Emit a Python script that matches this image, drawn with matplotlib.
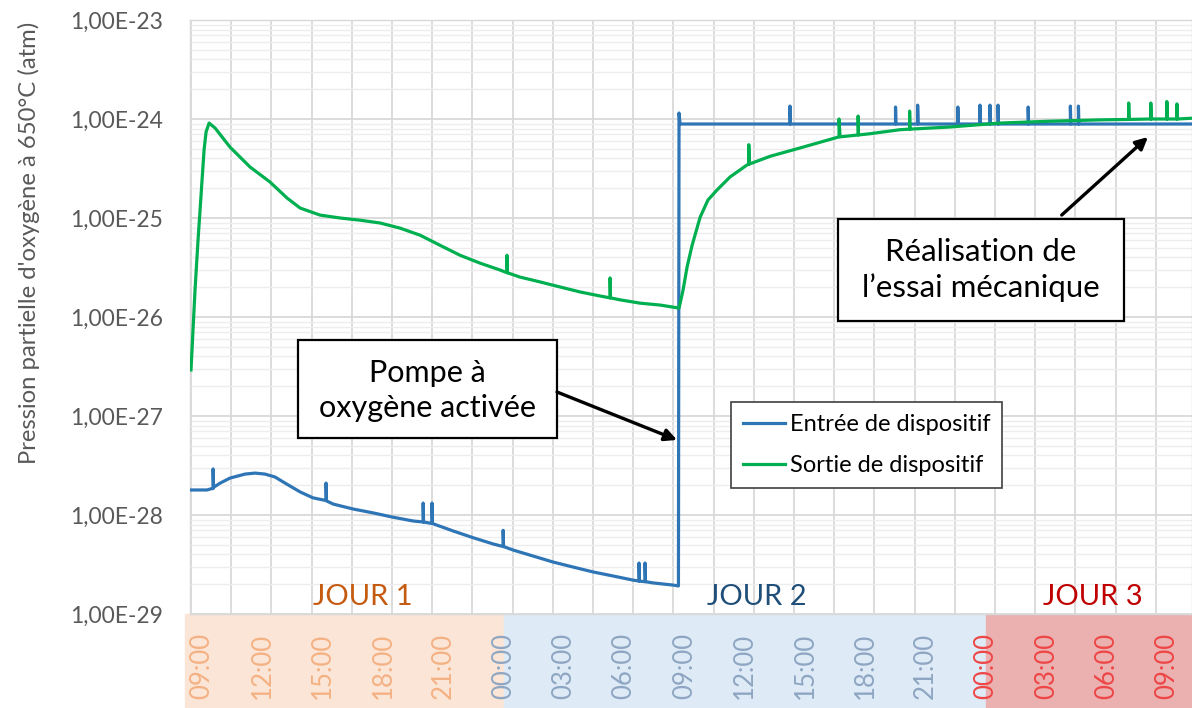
"""
pression partielle d'oxygene mesuree en entree et en sortie du dispositif
"""
import math

import matplotlib
matplotlib.use("Agg")
import matplotlib.pyplot as plt
import matplotlib.ticker as mticker
from matplotlib.patches import Rectangle
from matplotlib.transforms import blended_transform_factory

plt.rcParams["font.family"] = ["Lato", "DejaVu Sans"]

# temps en heures depuis minuit du jour 1, pressions en atm
entree_t = [
    8.45, 9.25, 9.45, 9.55, 9.55, 9.57, 9.90, 10.39, 11.14, 11.64, 12.13, 12.63,
    13.13, 13.88, 14.52, 15.17, 15.17, 15.19, 15.52, 16.51, 17.51, 18.50, 19.50,
    20.0, 20.0, 20.02, 20.44, 20.44, 20.46, 21.49, 22.48, 23.48,
    23.98, 23.98, 24.0, 24.47, 25.47, 26.46, 27.46, 28.45, 29.45, 30.44,
    30.74, 30.74, 30.76, 31.04, 31.04, 31.06, 31.44, 32.43, 32.70,
    32.73, 32.78,
    38.25, 38.25, 38.27, 43.5, 43.5, 43.52, 44.6, 44.6, 44.62,
    46.6, 46.6, 46.62, 47.7, 47.7, 47.72, 48.2, 48.2, 48.22,
    48.6, 48.6, 48.62, 50.1, 50.1, 50.12, 52.2, 52.2, 52.22,
    52.6, 52.6, 52.62, 58.3,
]
entree_p = [
    1.79e-28, 1.79e-28, 1.84e-28, 1.85e-28, 2.92e-28, 1.90e-28, 2.10e-28, 2.36e-28, 2.59e-28, 2.65e-28, 2.59e-28, 2.42e-28,
    2.10e-28, 1.71e-28, 1.49e-28, 1.40e-28, 2.10e-28, 1.39e-28, 1.29e-28, 1.15e-28, 1.05e-28, 9.5e-29, 8.7e-29,
    8.5e-29, 1.32e-28, 8.5e-29, 8.2e-29, 1.32e-28, 8.2e-29, 6.9e-29, 5.9e-29, 5.1e-29,
    4.8e-29, 7.0e-29, 4.8e-29, 4.43e-29, 3.85e-29, 3.35e-29, 2.98e-29, 2.66e-29, 2.42e-29, 2.20e-29,
    2.15e-29, 3.27e-29, 2.15e-29, 2.12e-29, 3.27e-29, 2.12e-29, 2.06e-29, 1.96e-29, 1.92e-29,
    1.15e-24, 8.9e-25,
    8.9e-25, 1.35e-24, 8.9e-25, 8.9e-25, 1.32e-24, 8.9e-25, 8.9e-25, 1.38e-24, 8.9e-25,
    8.9e-25, 1.32e-24, 8.9e-25, 8.9e-25, 1.38e-24, 8.9e-25, 8.9e-25, 1.38e-24, 8.9e-25,
    8.9e-25, 1.38e-24, 8.9e-25, 8.9e-25, 1.32e-24, 8.9e-25, 8.9e-25, 1.35e-24, 8.9e-25,
    8.9e-25, 1.35e-24, 8.9e-25, 8.9e-25,
]

sortie_t = [
    8.45, 8.55, 8.65, 8.80, 8.90, 9.00, 9.10, 9.20, 9.35, 9.65, 10.39, 11.39, 12.38,
    13.23, 13.88, 14.87, 15.87, 16.86, 17.86, 18.85, 19.85, 20.84, 21.84, 22.83, 23.83,
    24.17, 24.17, 24.19, 24.82, 25.82, 26.81, 27.81, 28.80,
    29.30, 29.30, 29.32, 29.80, 30.79, 31.79, 32.73,
    32.93, 33.13, 33.38, 33.78, 34.17, 34.62, 35.27, 36.11, 36.20, 36.20, 36.22,
    37.26, 38.75, 40.69, 40.69, 40.74, 41.64, 41.64, 41.66, 42.23, 43.73,
    44.20, 44.20, 44.22, 46.21, 48.70, 51.19, 53.68,
    55.1, 55.1, 55.12, 56.2, 56.2, 56.22, 57.0, 57.0, 57.02,
    57.5, 57.5, 57.52, 58.3,
]
sortie_p = [
    2.92e-27, 7.4e-27, 1.87e-26, 6.0e-26, 1.2e-25, 2.42e-25, 4.86e-25, 7.4e-25, 9.1e-25, 8.1e-25, 5.2e-25, 3.27e-25, 2.31e-25,
    1.59e-25, 1.26e-25, 1.07e-25, 1.0e-25, 9.5e-26, 8.9e-26, 7.9e-26, 6.7e-26, 5.3e-26, 4.2e-26, 3.5e-26, 2.98e-26,
    2.8e-26, 4.2e-26, 2.8e-26, 2.53e-26, 2.26e-26, 2.01e-26, 1.79e-26, 1.63e-26,
    1.56e-26, 2.48e-26, 1.56e-26, 1.49e-26, 1.38e-26, 1.32e-26, 1.23e-26,
    1.87e-26, 3.2e-26, 5.3e-26, 1.02e-25, 1.52e-25, 1.92e-25, 2.6e-25, 3.43e-25, 3.5e-25, 5.5e-25, 3.5e-25,
    4.2e-25, 5.1e-25, 6.6e-25, 1.0e-24, 6.6e-25, 6.9e-25, 1.07e-24, 6.9e-25, 7.1e-25, 7.8e-25,
    7.9e-25, 1.2e-24, 7.9e-25, 8.3e-25, 9.1e-25, 9.5e-25, 9.8e-25,
    9.9e-25, 1.45e-24, 9.9e-25, 1.0e-24, 1.45e-24, 1.0e-24, 1.0e-24, 1.5e-24, 1.0e-24,
    1.0e-24, 1.42e-24, 1.0e-24, 1.02e-24,
]

heures = [9, 12, 15, 18, 21, 24, 27, 30, 33, 36, 39, 42, 45, 48, 51, 54, 57]
decades = [1e-29, 1e-28, 1e-27, 1e-26, 1e-25, 1e-24, 1e-23]
jours = ["JOUR 1", "JOUR 2", "JOUR 3"]
limites_jours = [24, 48]

couleurs_bandes = ["#FBE5D6", "#DEEBF7", "#EBB0B0"]
couleurs_heures = ["#F4B183", "#8FA6C2", "#EE4646"]
couleurs_jours = ["#C55A11", "#1F4E79", "#C00000"]

fig = plt.figure(figsize=(11.92, 7.08), dpi=100)
ax = fig.add_axes([190 / 1192, 94 / 708, 1002 / 1192, 594 / 708])

ax.set_yscale("log")
ax.set_ylim(decades[0], decades[-1])
xmin, xmax = 8.4, 58.25
ax.set_xlim(xmin, xmax)

ax.plot(entree_t, entree_p, color="#2E75B6", lw=2.3, label="Entrée de dispositif", zorder=3)
ax.plot(sortie_t, sortie_p, color="#00B050", lw=2.3, label="Sortie de dispositif", zorder=3)

# grille
ax.yaxis.set_major_locator(mticker.FixedLocator(decades))
ax.yaxis.set_minor_locator(mticker.FixedLocator(
    [m * d for d in decades[:-1] for m in range(2, 10)]))
ax.yaxis.set_minor_formatter(mticker.NullFormatter())
ax.yaxis.set_major_formatter(
    mticker.FuncFormatter(lambda v, _: "1,00E%03d" % round(math.log10(v))))
ax.grid(which="major", axis="y", color="#D9D9D9", lw=1.3)
ax.grid(which="minor", axis="y", color="#EDEDED", lw=1.0)
ax.set_xticks([8.45 + 2 * k for k in range(25)], minor=True)
ax.grid(which="minor", axis="x", color="#D9D9D9", lw=1.3)
ax.set_axisbelow(True)

ax.set_xticks(heures)
ax.set_xticklabels(["%02d:00" % (h % 24) for h in heures], rotation=90, fontsize=18.5)
for lab, h in zip(ax.get_xticklabels(), heures):
    lab.set_color(couleurs_heures[min(int(h // 24), 2)])
ax.tick_params(axis="x", which="both", length=0, pad=13.5)
ax.tick_params(axis="y", which="both", length=0, pad=19.5, labelsize=16.5, labelcolor="#595959")

for s in ax.spines.values():
    s.set_color("#D9D9D9")
    s.set_linewidth(1.0)

ax.set_ylabel("Pression partielle d'oxygène à 650°C (atm)", fontsize=17.2, color="#595959")
ax.yaxis.set_label_coords(-0.1500, 0.6246)

# bandes colorees sous l'axe des temps
trans = blended_transform_factory(ax.transData, fig.transFigure)
bords = [xmin - 0.25] + limites_jours + [xmax + 1]
for i in range(3):
    ax.add_patch(Rectangle((bords[i], 0), bords[i + 1] - bords[i], 94 / 708,
                           transform=trans, color=couleurs_bandes[i],
                           clip_on=False, zorder=0))

for nom, xc, col in zip(jours, [0.1725, 0.5659, 0.9012], couleurs_jours):
    ax.text(xc, 0.0286, nom, transform=ax.transAxes, ha="center", va="center",
            fontsize=21, color=col)

# annotations
ax.add_patch(Rectangle((0.1078, 0.2963), 0.2585, 0.1650, transform=ax.transAxes,
                       facecolor="white", edgecolor="black", lw=1.6, zorder=5))
ax.text(0.2370, 0.3770, "Pompe à\noxygène activée", transform=ax.transAxes,
        ha="center", va="center", fontsize=22, linespacing=1.3, zorder=6)
ax.annotate("", xy=(0.486, 0.293), xycoords="axes fraction",
            xytext=(0.3663, 0.3737), textcoords="axes fraction",
            arrowprops=dict(arrowstyle="-|>", color="black", lw=2.4,
                            mutation_scale=18, shrinkA=0, shrinkB=0), zorder=6)

ax.add_patch(Rectangle((0.6467, 0.4933), 0.2854, 0.1717, transform=ax.transAxes,
                       facecolor="white", edgecolor="black", lw=1.6, zorder=5))
ax.text(0.7894, 0.5790, "Réalisation de\nl’essai mécanique", transform=ax.transAxes,
        ha="center", va="center", fontsize=22.5, linespacing=1.3, zorder=6)
ax.annotate("", xy=(0.956, 0.803), xycoords="axes fraction",
            xytext=(0.870, 0.6717), textcoords="axes fraction",
            arrowprops=dict(arrowstyle="-|>", color="black", lw=2.4,
                            mutation_scale=18, shrinkA=0, shrinkB=0), zorder=6)

leg = ax.legend(loc="upper left", bbox_to_anchor=(0.5399, 0.3569), fontsize=17,
                frameon=True, fancybox=False, edgecolor="#404040", framealpha=1,
                handlelength=1.8, handletextpad=0.2, borderpad=0.5, labelspacing=0.85,
                borderaxespad=0)
leg.get_frame().set_linewidth(1.2)
leg.set_zorder(6)

fig.savefig("out.png", dpi=100)
